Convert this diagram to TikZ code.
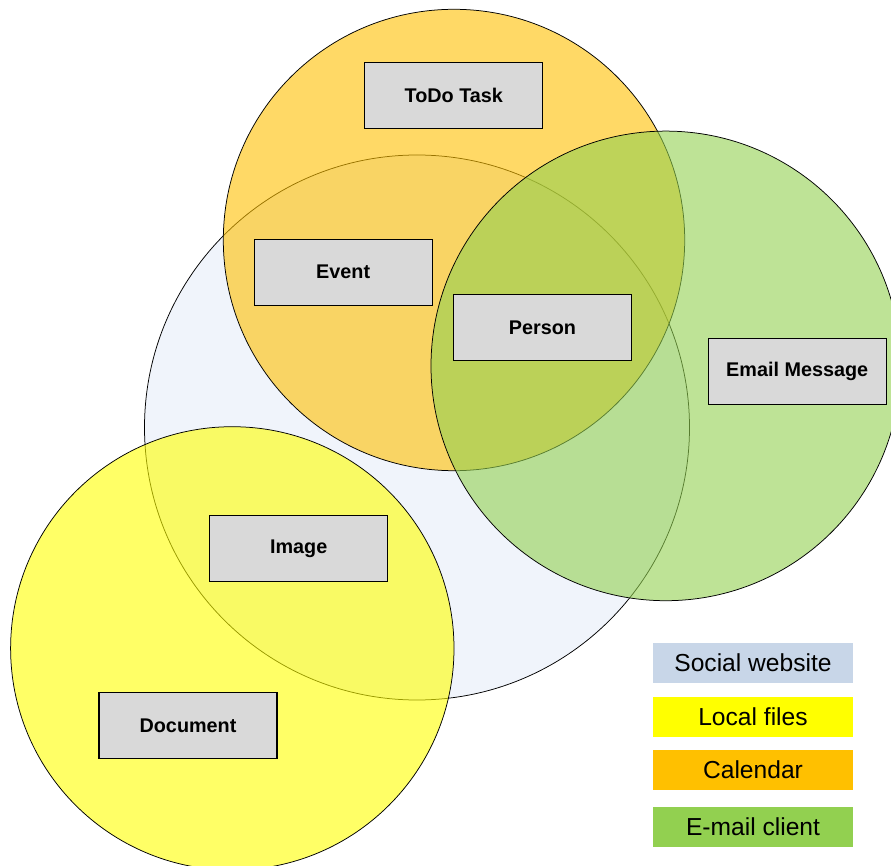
\documentclass[tikz,border=0pt]{standalone}
\usepackage{fontspec}
\setmainfont{Liberation Sans}
\definecolor{socialc}{RGB}{200,214,232}
\definecolor{socialfill}{RGB}{240,244,251}
\definecolor{localc}{RGB}{255,255,0}
\definecolor{calc}{RGB}{255,192,0}
\definecolor{mailc}{RGB}{146,208,80}
\definecolor{boxgray}{RGB}{217,217,217}
\tikzset{
  setcircle/.style={draw=black, line width=0.75pt},
  entity/.style={draw=black, fill=boxgray, line width=1.3pt, minimum width=178pt,
    minimum height=66pt, inner sep=0pt, font=\fontsize{19.8}{23}\selectfont\bfseries},
  legendbox/.style={minimum width=200pt, minimum height=40pt, inner sep=0pt,
    font=\fontsize{24.6}{28}\selectfont}
}
\begin{document}
\begin{tikzpicture}[x=1pt,y=-1pt]
\useasboundingbox (0,0) rectangle (891,866);
\begin{scope}
\clip (0,0) rectangle (891,866);
% overlapping source sets
\draw[setcircle, fill=socialfill] (417,427.5) circle[radius=272.5pt];
\draw[setcircle, fill=calc, fill opacity=0.6] (454,240) circle[radius=230.7pt];
\draw[setcircle, fill=mailc, fill opacity=0.6] (665.8,365.9) circle[radius=234.8pt];
\draw[setcircle, fill=localc, fill opacity=0.6] (232.3,648.4) circle[radius=221.7pt];
\end{scope}
% entity types
\node[entity] (todo) at (453.8,95.3) {ToDo Task};
\node[entity] (event) at (343.2,272.2) {Event};
\node[entity] (person) at (542.5,327.5) {Person};
\node[entity] (email) at (797.2,371.7) {Email Message};
\node[entity] (image) at (298.7,548.7) {Image};
\node[entity] (doc) at (188,725.7) {Document};
% legend
\node[legendbox, fill=socialc] (lsocial) at (753,663) {Social website};
\node[legendbox, fill=localc] (llocal) at (753,717) {Local files};
\node[legendbox, fill=calc] (lcal) at (753,769.7) {Calendar};
\node[legendbox, fill=mailc] (lmail) at (753,826.7) {E-mail client};
\end{tikzpicture}
\end{document}
